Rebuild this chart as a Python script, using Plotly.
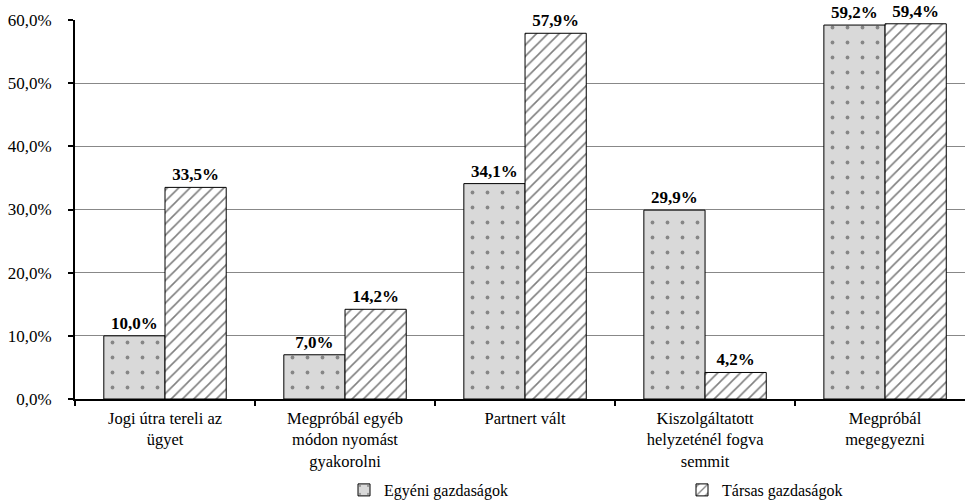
import plotly.graph_objects as go

categories = [
    "Jogi útra tereli az<br>ügyet",
    "Megpróbál egyéb<br>módon nyomást<br>gyakorolni",
    "Partnert vált",
    "Kiszolgáltatott<br>helyzeténél fogva<br>semmit",
    "Megpróbál<br>megegyezni",
]
egyeni = [10.0, 7.0, 34.1, 29.9, 59.2]
tarsas = [33.5, 14.2, 57.9, 4.2, 59.4]
series_names = ["Egyéni gazdaságok", "Társas gazdaságok"]
y_ticks = [0, 10, 20, 30, 40, 50, 60]
y_ticktext = ["0,0%", "10,0%", "20,0%", "30,0%", "40,0%", "50,0%", "60,0%"]

font_family = "Liberation Serif"

fig = go.Figure()
fig.add_trace(go.Bar(
    x=categories, y=egyeni, name=series_names[0], legend="legend",
    marker=dict(color="#d9d9d9", line=dict(color="black", width=1),
                pattern=dict(shape=".", fgcolor="#333333", bgcolor="#d9d9d9", size=15, solidity=0.05)),
    texttemplate="%{y:.1f}%", textposition="outside", cliponaxis=False,
    textfont=dict(family=font_family, size=17, color="black", weight="bold"),
))
fig.add_trace(go.Bar(
    x=categories, y=tarsas, name=series_names[1], legend="legend2",
    marker=dict(color="white", line=dict(color="black", width=1),
                pattern=dict(shape="/", fgcolor="black", bgcolor="white", size=8, solidity=0.2)),
    texttemplate="%{y:.1f}%", textposition="outside", cliponaxis=False,
    textfont=dict(family=font_family, size=17, color="black", weight="bold"),
))

plot_left, plot_right, plot_top, plot_bottom = 75, 965, 20, 399
legend_y = (plot_bottom - 490) / (plot_bottom - plot_top)
legend_common = dict(yref="paper", y=legend_y, yanchor="middle", xref="paper",
                     xanchor="left", bgcolor="rgba(0,0,0,0)",
                     font=dict(family=font_family, size=16, color="black"))

fig.update_layout(
    width=972, height=501,
    margin=dict(l=75, r=7, t=20, b=102, autoexpand=False),
    paper_bgcolor="white", plot_bgcolor="white",
    separators=", ",
    barmode="group", bargap=0.32, bargroupgap=0,
    font=dict(family=font_family, size=16, color="black"),
    showlegend=True,
    hovermode=False,
    legend=dict(x=(344 - plot_left) / (plot_right - plot_left), **legend_common),
    legend2=dict(x=(682 - plot_left) / (plot_right - plot_left), **legend_common),
    xaxis=dict(range=[-0.5, 4.444], showline=True, linecolor="black", linewidth=2, ticks="outside",
               tickson="boundaries", ticklen=5, tickcolor="black", tickwidth=2,
               ticklabelstandoff=3, tickangle=0,
               tickfont=dict(family=font_family, size=16.5)),
    yaxis=dict(range=[0, 60], tickvals=y_ticks, ticktext=y_ticktext,
               showline=True, linecolor="black", linewidth=2, ticks="outside",
               ticklen=5, tickcolor="black", tickwidth=2, ticklabelstandoff=13,
               showgrid=True, gridcolor="#888888", gridwidth=1, zeroline=False,
               tickfont=dict(family=font_family, size=17)),
)

fig.write_html("out.html", config={"displayModeBar": False},
               post_script="document.body.style.margin='0';")
